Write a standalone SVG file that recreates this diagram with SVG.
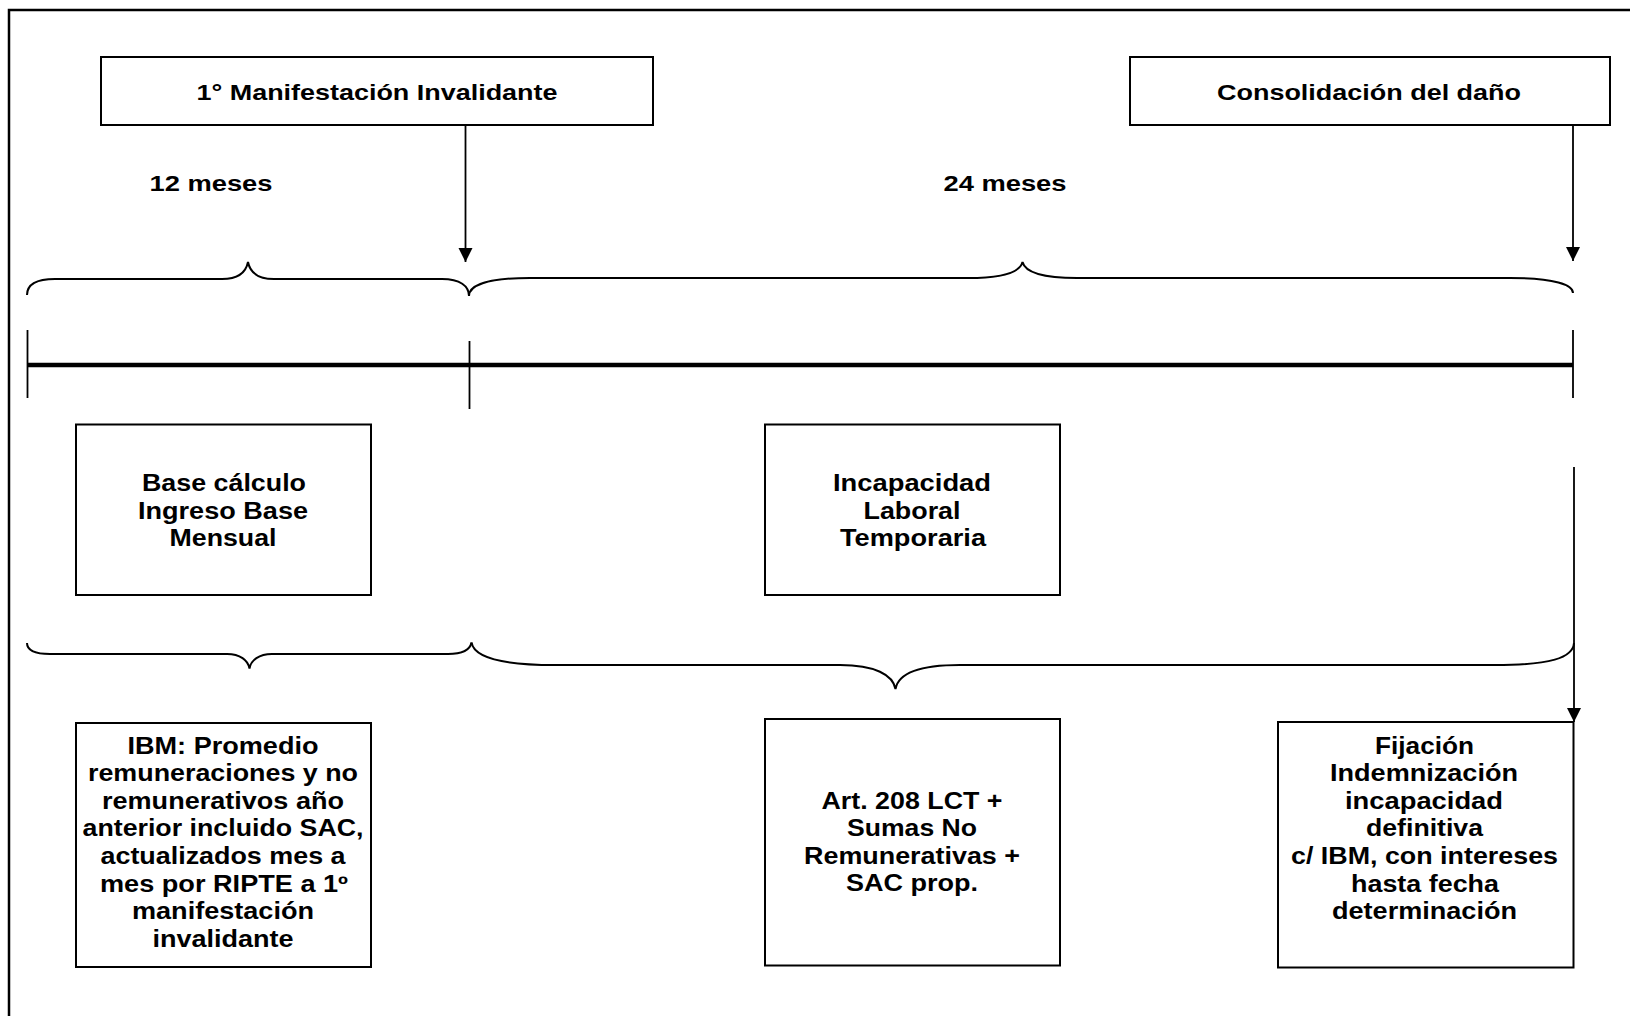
<svg xmlns="http://www.w3.org/2000/svg" width="1630" height="1016" viewBox="0 0 1630 1016">
<style>
.box{fill:#fff;stroke:#000;stroke-width:2}
.t{font-family:"Liberation Sans",Arial,sans-serif;font-weight:bold;fill:#000;text-anchor:middle}
.s20{font-size:22.5px}
.s23{font-size:23px}
.con{fill:none;stroke:#000;stroke-width:1.8}
.brace{fill:none;stroke:#000;stroke-width:2}
</style>
<defs>
<marker id="arr" markerUnits="userSpaceOnUse" markerWidth="16" markerHeight="16" refX="15" refY="8" orient="auto" viewBox="0 0 16 16">
<path d="M1,1 L15,8 L1,15 Z" fill="#000"/>
</marker>
</defs>
<rect x="9" y="10" width="1660" height="1040" fill="#fff" stroke="#000" stroke-width="2.5"/>
<g id="connectors">
<line class="con" x1="465.5" y1="125" x2="465.5" y2="262" marker-end="url(#arr)"/>
<line class="con" x1="1573" y1="125" x2="1573" y2="261" marker-end="url(#arr)"/>
<line class="con" x1="1574" y1="467" x2="1574" y2="722" marker-end="url(#arr)"/>
<line x1="27" y1="365" x2="1573" y2="365" stroke="#000" stroke-width="4.5"/>
<line class="con" x1="27.5" y1="330" x2="27.5" y2="398"/>
<line class="con" x1="469.5" y1="341" x2="469.5" y2="409"/>
<line class="con" x1="1573" y1="330" x2="1573" y2="398"/>
<path class="brace" d="M27,295 C27,285 35,279 55,279 L222,279 C238,279 246,272 248,262 C250,272 258,279 274,279 L442,279 C460,279 469,286 469,296"/>
<path class="brace" d="M469,296 C469,286 485,278 530,278 L968,278 C1005,278 1020,272 1022.5,262 C1025,272 1040,278 1077,278 L1510,278 C1555,278 1573,285 1573,293"/>
<path class="brace" d="M27,643 C27,650 33,654 50,654 L227,654 C240,654 248,660 249.5,668.5 C251,660 259,654 272,654 L448,654 C462,654 470,650 471.5,642.5"/>
<path class="brace" d="M471.5,642.5 C474,657 500,665 555,665 L840,665 C875,665 893,675 895.5,689 C898,675 915,665 960,665 L1495,665 C1550,665 1573,658 1574,643"/>
</g>
<g id="n-manifestacion">
<rect class="box" x="101" y="57" width="552" height="68"/>
<text class="t s20" x="377" y="100" textLength="361" lengthAdjust="spacingAndGlyphs">1° Manifestación Invalidante</text>
</g>
<g id="n-consolidacion">
<rect class="box" x="1130" y="57" width="480" height="68"/>
<text class="t s20" x="1369" y="100" textLength="304" lengthAdjust="spacingAndGlyphs">Consolidación del daño</text>
</g>
<g id="l-12">
<text class="t s20" x="211" y="191" textLength="123" lengthAdjust="spacingAndGlyphs">12 meses</text>
</g>
<g id="l-24">
<text class="t s20" x="1005" y="191" textLength="123" lengthAdjust="spacingAndGlyphs">24 meses</text>
</g>
<g id="n-base">
<rect class="box" x="76" y="424.5" width="295" height="170.5"/>
<text class="t s23" x="224" y="491" textLength="164" lengthAdjust="spacingAndGlyphs">Base cálculo</text>
<text class="t s23" x="223" y="518.5" textLength="170" lengthAdjust="spacingAndGlyphs">Ingreso Base</text>
<text class="t s23" x="223" y="546" textLength="107" lengthAdjust="spacingAndGlyphs">Mensual</text>
</g>
<g id="n-incapacidad">
<rect class="box" x="765" y="424.5" width="295" height="170.5"/>
<text class="t s23" x="912" y="491" textLength="158" lengthAdjust="spacingAndGlyphs">Incapacidad</text>
<text class="t s23" x="912" y="518.5" textLength="97" lengthAdjust="spacingAndGlyphs">Laboral</text>
<text class="t s23" x="913" y="546" textLength="146" lengthAdjust="spacingAndGlyphs">Temporaria</text>
</g>
<g id="n-ibm">
<rect class="box" x="76" y="723" width="295" height="244"/>
<text class="t s23" x="223" y="753.5" textLength="191" lengthAdjust="spacingAndGlyphs">IBM:  Promedio</text>
<text class="t s23" x="223" y="781.1" textLength="270" lengthAdjust="spacingAndGlyphs">remuneraciones y no</text>
<text class="t s23" x="223" y="808.7" textLength="242" lengthAdjust="spacingAndGlyphs">remunerativos año</text>
<text class="t s23" x="223" y="836.3" textLength="281" lengthAdjust="spacingAndGlyphs">anterior incluido SAC,</text>
<text class="t s23" x="223" y="863.9" textLength="245" lengthAdjust="spacingAndGlyphs">actualizados mes a</text>
<text class="t s23" x="224" y="891.5" textLength="248" lengthAdjust="spacingAndGlyphs">mes por RIPTE a 1º</text>
<text class="t s23" x="223" y="919.1" textLength="182" lengthAdjust="spacingAndGlyphs">manifestación</text>
<text class="t s23" x="223" y="946.7" textLength="141" lengthAdjust="spacingAndGlyphs">invalidante</text>
</g>
<g id="n-art208">
<rect class="box" x="765" y="719" width="295" height="246.5"/>
<text class="t s23" x="912" y="808.5" textLength="181" lengthAdjust="spacingAndGlyphs">Art. 208 LCT +</text>
<text class="t s23" x="912" y="836.1" textLength="130" lengthAdjust="spacingAndGlyphs">Sumas No</text>
<text class="t s23" x="912" y="863.7" textLength="216" lengthAdjust="spacingAndGlyphs">Remunerativas +</text>
<text class="t s23" x="912" y="891.3" textLength="132" lengthAdjust="spacingAndGlyphs">SAC prop.</text>
</g>
<g id="n-fijacion">
<rect class="box" x="1278" y="722" width="295.5" height="245.5"/>
<text class="t s23" x="1424.5" y="753.5" textLength="99" lengthAdjust="spacingAndGlyphs">Fijación</text>
<text class="t s23" x="1424" y="781.1" textLength="188" lengthAdjust="spacingAndGlyphs">Indemnización</text>
<text class="t s23" x="1424" y="808.7" textLength="158" lengthAdjust="spacingAndGlyphs">incapacidad</text>
<text class="t s23" x="1424.5" y="836.3" textLength="117" lengthAdjust="spacingAndGlyphs">definitiva</text>
<text class="t s23" x="1424.5" y="863.9" textLength="267" lengthAdjust="spacingAndGlyphs">c/ IBM,  con intereses</text>
<text class="t s23" x="1425" y="891.5" textLength="148" lengthAdjust="spacingAndGlyphs">hasta fecha</text>
<text class="t s23" x="1424.5" y="919.1" textLength="185" lengthAdjust="spacingAndGlyphs">determinación</text>
</g>
</svg>
